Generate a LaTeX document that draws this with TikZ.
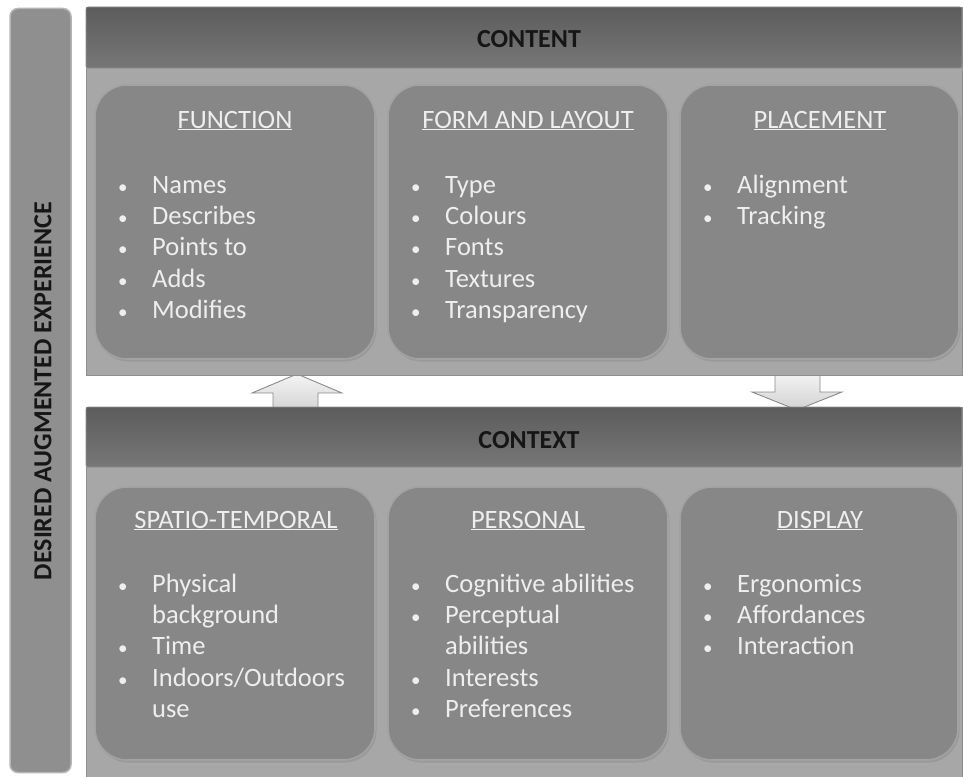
\documentclass[tikz,border=0pt]{standalone}
\usepackage{fontspec}
\setmainfont{Carlito}
\usetikzlibrary{shadows}
\definecolor{panelgray}{HTML}{A7A7A7}
\definecolor{paneledge}{HTML}{8E8E8E}
\definecolor{headtop}{HTML}{5C5C5C}
\definecolor{headbot}{HTML}{777777}
\definecolor{boxgray}{HTML}{878787}
\definecolor{boxedge}{HTML}{A2A2A2}
\definecolor{bargray}{HTML}{8F8F8F}
\definecolor{baredge}{HTML}{B5B5B5}
\definecolor{boxtext}{HTML}{EEEEEE}
\definecolor{headtext}{HTML}{161616}
\definecolor{arrowlight}{HTML}{F4F4F4}
\definecolor{arrowdark}{HTML}{D2D2D2}
\definecolor{arrowedge}{HTML}{8A8A8A}
\newcommand{\bl}{\makebox[35pt][l]{\hspace{1pt}{\fontsize{19}{19}\selectfont •}}}
\tikzset{
  panel/.style={rectangle, fill=panelgray, draw=paneledge, line width=0.8pt, inner sep=0pt},
  header/.style={rectangle, rounded corners=2pt, top color=headtop, bottom color=headbot, draw=paneledge, line width=0.6pt, inner sep=0pt},
  catbox/.style={rectangle, rounded corners=32pt, fill=boxgray, draw=boxedge, line width=1.6pt, inner sep=0pt,
    drop shadow={shadow xshift=1.5pt, shadow yshift=-2.5pt, opacity=0.35}},
  sidebar/.style={rectangle, rounded corners=8pt, fill=bargray, draw=baredge, line width=1.5pt, inner sep=0pt},
  headlabel/.style={font=\fontsize{26}{30}\selectfont\bfseries, text=headtext, inner sep=0pt, anchor=base},
  boxtitle/.style={font=\fontsize{26.5}{31.3}\selectfont, text=boxtext, inner sep=0pt, anchor=base},
  blist/.style={font=\fontsize{26.5}{31.3}\selectfont, text=boxtext, inner sep=0pt, anchor=north west},
  blockarrow/.style={top color=arrowlight, bottom color=arrowdark, draw=arrowedge, line width=0.9pt, line join=miter}
}
\begin{document}
\begin{tikzpicture}[x=1pt,y=-1pt]
\useasboundingbox[fill=white] (0,0) rectangle (963,776);

% block arrows (behind panels)
\draw[blockarrow] (273,412) -- (273,393) -- (252,393) -- (297,374) -- (342,393) -- (318,393) -- (318,412) -- cycle;
\draw[blockarrow] (775,372) -- (775,392) -- (752,392) -- (797,410) -- (842,392) -- (820,392) -- (820,372) -- cycle;

% side bar
\node[sidebar, minimum width=61pt, minimum height=764pt] (bar) at (40.5,390.5) {};
\node[font=\fontsize{26}{30}\selectfont\bfseries, text=headtext, rotate=90, inner sep=0pt] (barlabel) at (43,391) {DESIRED AUGMENTED EXPERIENCE};

% content panel
\node[panel, minimum width=876pt, minimum height=368pt] (content) at (524,191) {};
\node[header, minimum width=876pt, minimum height=61pt] (contenthead) at (524,37.5) {};
\node[headlabel] (contentlabel) at (529,48) {CONTENT};

% context panel
\node[panel, minimum width=876pt, minimum height=370pt] (context) at (524,592) {};
\node[header, minimum width=876pt, minimum height=60pt] (contexthead) at (524,437) {};
\node[headlabel] (contextlabel) at (529,448) {CONTEXT};

% top row boxes
\node[catbox, minimum width=280pt, minimum height=274pt] (function) at (235,222) {};
\node[catbox, minimum width=280pt, minimum height=274pt] (form) at (528,222) {};
\node[catbox, minimum width=279pt, minimum height=274pt] (placement) at (819.5,222) {};

\node[boxtitle] (functiont) at (235,128) {\underline{FUNCTION}};
\node[boxtitle] (formt) at (528,128) {\underline{FORM AND LAYOUT}};
\node[boxtitle] (placementt) at (820,128) {\underline{PLACEMENT}};

\node[blist] (functionl) at (117,171.1) {\begin{tabular}{@{}l@{}l@{}}
\bl & Names\\ \bl & Describes\\ \bl & Points to\\ \bl & Adds\\ \bl & Modifies
\end{tabular}};
\node[blist] (forml) at (410,171.1) {\begin{tabular}{@{}l@{}l@{}}
\bl & Type\\ \bl & Colours\\ \bl & Fonts\\ \bl & Textures\\ \bl & Transparency
\end{tabular}};
\node[blist] (placementl) at (702,171.1) {\begin{tabular}{@{}l@{}l@{}}
\bl & Alignment\\ \bl & Tracking
\end{tabular}};

% bottom row boxes
\node[catbox, minimum width=280pt, minimum height=273pt] (spatio) at (235,623.5) {};
\node[catbox, minimum width=280pt, minimum height=273pt] (personal) at (528,623.5) {};
\node[catbox, minimum width=278pt, minimum height=273pt] (display) at (819,623.5) {};

\node[boxtitle] (spatiot) at (236,528) {\underline{SPATIO-TEMPORAL}};
\node[boxtitle] (personalt) at (528,528) {\underline{PERSONAL}};
\node[boxtitle] (displayt) at (820,528) {\underline{DISPLAY}};

\node[blist] (spatiol) at (117,570.1) {\begin{tabular}{@{}l@{}l@{}}
\bl & Physical\\ & background\\ \bl & Time\\ \bl & Indoors/Outdoors\\ & use
\end{tabular}};
\node[blist] (personall) at (410,570.1) {\begin{tabular}{@{}l@{}l@{}}
\bl & Cognitive abilities\\ \bl & Perceptual\\ & abilities\\ \bl & Interests\\ \bl & Preferences
\end{tabular}};
\node[blist] (displayl) at (702,570.1) {\begin{tabular}{@{}l@{}l@{}}
\bl & Ergonomics\\ \bl & Affordances\\ \bl & Interaction
\end{tabular}};
\end{tikzpicture}
\end{document}
